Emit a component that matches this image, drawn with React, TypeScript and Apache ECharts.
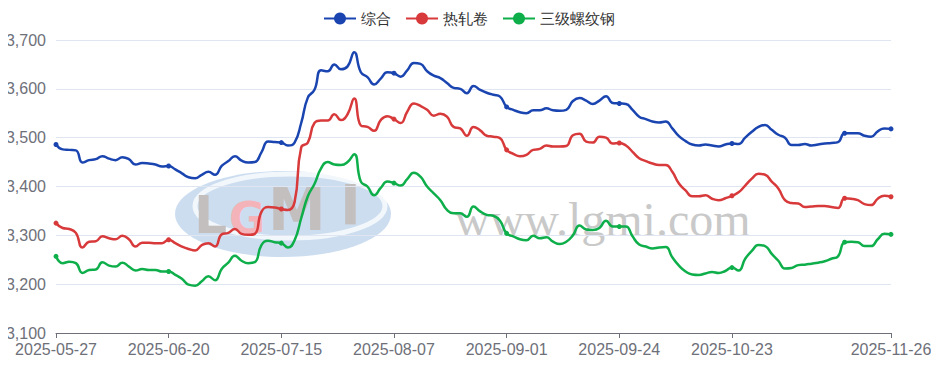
import React, { useEffect, useRef } from "react";
import * as echarts from "echarts";

const dates: string[] = [
  "2025-05-27","2025-05-28","2025-05-29","2025-05-30",
  "2025-06-03","2025-06-04","2025-06-05","2025-06-06",
  "2025-06-09","2025-06-10","2025-06-11","2025-06-12","2025-06-13",
  "2025-06-16","2025-06-17","2025-06-18","2025-06-19","2025-06-20",
  "2025-06-23","2025-06-24","2025-06-25","2025-06-26","2025-06-27",
  "2025-06-30","2025-07-01","2025-07-02","2025-07-03","2025-07-04",
  "2025-07-07","2025-07-08","2025-07-09","2025-07-10","2025-07-11",
  "2025-07-14","2025-07-15","2025-07-16","2025-07-17","2025-07-18",
  "2025-07-21","2025-07-22","2025-07-23","2025-07-24","2025-07-25",
  "2025-07-28","2025-07-29","2025-07-30","2025-07-31","2025-08-01",
  "2025-08-04","2025-08-05","2025-08-06","2025-08-07","2025-08-08",
  "2025-08-11","2025-08-12","2025-08-13","2025-08-14","2025-08-15",
  "2025-08-18","2025-08-19","2025-08-20","2025-08-21","2025-08-22",
  "2025-08-25","2025-08-26","2025-08-27","2025-08-28","2025-08-29",
  "2025-09-01","2025-09-02","2025-09-03","2025-09-04","2025-09-05",
  "2025-09-08","2025-09-09","2025-09-10","2025-09-11","2025-09-12",
  "2025-09-15","2025-09-16","2025-09-17","2025-09-18","2025-09-19",
  "2025-09-22","2025-09-23","2025-09-24","2025-09-25","2025-09-26",
  "2025-09-28","2025-09-29","2025-09-30",
  "2025-10-09","2025-10-10","2025-10-11",
  "2025-10-13","2025-10-14","2025-10-15","2025-10-16","2025-10-17",
  "2025-10-20","2025-10-21","2025-10-22","2025-10-23","2025-10-24",
  "2025-10-27","2025-10-28","2025-10-29","2025-10-30","2025-10-31",
  "2025-11-03","2025-11-04","2025-11-05","2025-11-06","2025-11-07",
  "2025-11-10","2025-11-11","2025-11-12","2025-11-13","2025-11-14",
  "2025-11-17","2025-11-18","2025-11-19","2025-11-20","2025-11-21",
  "2025-11-24","2025-11-25","2025-11-26",
];

const composite: number[] = [
  3486, 3476, 3475, 3474, 3449, 3454, 3456, 3462, 3457, 3454,
  3460, 3456, 3445, 3448, 3447, 3445, 3441, 3442, 3435, 3427,
  3419, 3417, 3424, 3430, 3424, 3442, 3452, 3462, 3453, 3449,
  3450, 3470, 3492, 3491, 3490, 3484, 3490, 3530, 3582, 3598,
  3638, 3636, 3650, 3640, 3646, 3675, 3634, 3624, 3609, 3621,
  3634, 3632, 3625, 3638, 3653, 3651, 3636, 3627, 3622, 3612,
  3602, 3600, 3591, 3606, 3598, 3592, 3588, 3584, 3563, 3557,
  3552, 3550, 3556, 3556, 3560, 3556, 3555, 3557, 3575, 3581,
  3576, 3569, 3576, 3585, 3571, 3570, 3569, 3557, 3543, 3538,
  3533, 3531, 3533, 3519, 3503, 3493, 3486, 3484, 3486, 3484,
  3482, 3486, 3488, 3487, 3500, 3512, 3522, 3526, 3516, 3506,
  3500, 3485, 3485, 3487, 3484, 3486, 3488, 3489, 3491, 3509,
  3509, 3509, 3504, 3502, 3513, 3519, 3518,
];

const hotRolled: number[] = [
  3325, 3315, 3313, 3305, 3275, 3287, 3288, 3298, 3294, 3292,
  3299, 3292, 3277, 3285, 3285, 3284, 3284, 3291, 3284, 3277,
  3272, 3269, 3280, 3284, 3277, 3302, 3305, 3313, 3303, 3301,
  3303, 3348, 3358, 3357, 3354, 3352, 3368, 3480, 3490, 3530,
  3535, 3535, 3548, 3536, 3548, 3580, 3525, 3522, 3514, 3536,
  3544, 3538, 3530, 3553, 3570, 3565, 3557, 3545, 3549, 3543,
  3522, 3519, 3504, 3522, 3515, 3504, 3502, 3499, 3475, 3467,
  3462, 3465, 3475, 3477, 3484, 3482, 3482, 3483, 3505, 3508,
  3492, 3490, 3502, 3500, 3488, 3489, 3484, 3471, 3458, 3452,
  3447, 3444, 3444, 3430, 3406, 3392, 3380, 3380, 3382, 3375,
  3372, 3376, 3381, 3388, 3402, 3416, 3426, 3424, 3410, 3396,
  3372, 3366, 3365, 3358, 3359, 3360, 3360, 3358, 3356, 3376,
  3375, 3372, 3364, 3362, 3375, 3381, 3379,
];

const rebar: number[] = [
  3257, 3243, 3246, 3243, 3223, 3229, 3230, 3245, 3238, 3236,
  3244, 3236, 3228, 3231, 3229, 3229, 3226, 3226, 3219, 3211,
  3199, 3197, 3206, 3216, 3208, 3231, 3244, 3258, 3248, 3243,
  3245, 3280, 3289, 3286, 3284, 3275, 3290, 3335, 3380, 3405,
  3437, 3450, 3445, 3444, 3450, 3466, 3410, 3400, 3382, 3397,
  3410, 3407, 3402, 3415, 3428, 3420, 3400, 3386, 3372, 3352,
  3345, 3345, 3338, 3359, 3349, 3342, 3340, 3330, 3304, 3298,
  3292, 3290, 3299, 3294, 3296, 3287, 3282, 3287, 3300, 3320,
  3312, 3311, 3315, 3330, 3318, 3318, 3318, 3298, 3281, 3277,
  3273, 3275, 3276, 3255, 3238, 3226, 3220, 3219, 3222, 3225,
  3223, 3227, 3234, 3228, 3252, 3268, 3280, 3278, 3262, 3248,
  3232, 3233, 3239, 3240, 3242, 3244, 3247, 3252, 3257, 3286,
  3287, 3286, 3278, 3278, 3292, 3303, 3302,
];

const seriesNames: string[] = ["综合", "热轧卷", "三级螺纹钢"];
const seriesColors: string[] = ["#1a45b0", "#d8393a", "#0eaf4b"];

const LABEL_STEP = 17;

export default function App() {
  const ref = useRef<HTMLDivElement>(null);
  useEffect(() => {
    if (!ref.current) return;
    const chart = echarts.init(ref.current, undefined, { renderer: "svg" });
    const last = dates.length - 1;
    const labelIdx = (i: number) => i % LABEL_STEP === 0 || i === last;
    const tickIdx = (i: number) => (i % LABEL_STEP === 0 && last - i >= LABEL_STEP) || i === last;
    const values = [composite, hotRolled, rebar];
    const logoLetter = (text: string, x: number, y: number, size: number, fill: string) => ({
      type: "text",
      z: 0,
      x,
      y,
      style: {
        text,
        fontSize: size,
        fontWeight: "bold",
        fontFamily: "DejaVu Sans",
        fill,
        textVerticalAlign: "middle",
      },
    });
    chart.setOption({
      animation: false,
      textStyle: { fontFamily: "Liberation Sans, sans-serif" },
      legend: {
        top: 6,
        left: 318,
        itemWidth: 32,
        itemHeight: 15,
        itemGap: 14,
        textStyle: { fontSize: 15, color: "#333" },
        data: seriesNames,
      },
      grid: { left: 56, right: 48, top: 40, bottom: 36, containLabel: false },
      graphic: [
        {
          type: "ellipse",
          z: 0,
          shape: { cx: 283, cy: 214, rx: 108, ry: 43 },
          style: { fill: "rgba(170,198,230,0.6)" },
        },
        {
          type: "ellipse",
          z: 0,
          shape: { cx: 290, cy: 206, rx: 95, ry: 32 },
          style: { fill: "none", stroke: "rgba(255,255,255,0.75)", lineWidth: 5 },
        },
        logoLetter("L", 194, 215, 52, "#c3bfbf"),
        logoLetter("G", 229, 218, 44, "#f4b3b8"),
        logoLetter("M", 268, 210, 58, "#c3bfbf"),
        logoLetter("I", 340, 204, 56, "#c3bfbf"),
        {
          type: "text",
          z: 0,
          x: 455,
          y: 219,
          style: {
            text: "www.lgmi.com",
            fontSize: 48,
            fontFamily: "Liberation Serif",
            fill: "#c9c9c9",
            textVerticalAlign: "middle",
          },
        },
      ],
      xAxis: {
        type: "category",
        boundaryGap: false,
        data: dates,
        axisLine: { lineStyle: { color: "#6e7079" } },
        axisTick: { interval: tickIdx, length: 5 },
        axisLabel: {
          interval: labelIdx,
          fontSize: 16,
          color: "#6e7079",
          margin: 8,
          formatter: (v: string, i: number) =>
            (i % LABEL_STEP !== 0 && i !== last) || (i !== last && last - i < LABEL_STEP) ? "" : v,
        },
      },
      yAxis: {
        type: "value",
        min: 3100,
        max: 3700,
        interval: 100,
        axisLabel: {
          fontSize: 16,
          color: "#6e7079",
          margin: 10,
          formatter: (v: number) => v.toLocaleString("en-US"),
        },
        splitLine: { lineStyle: { color: "#e0e6f1" } },
      },
      series: seriesNames.map((name, k) => ({
        name,
        type: "line",
        data: values[k],
        smooth: true,
        symbol: "circle",
        symbolSize: 5,
        showSymbol: true,
        lineStyle: { width: 2.5, color: seriesColors[k] },
        itemStyle: { color: seriesColors[k] },
        z: 3,
      })),
    });
    return () => chart.dispose();
  }, []);
  return <div ref={ref} style={{ width: 939, height: 369, margin: -8 }} />;
}
